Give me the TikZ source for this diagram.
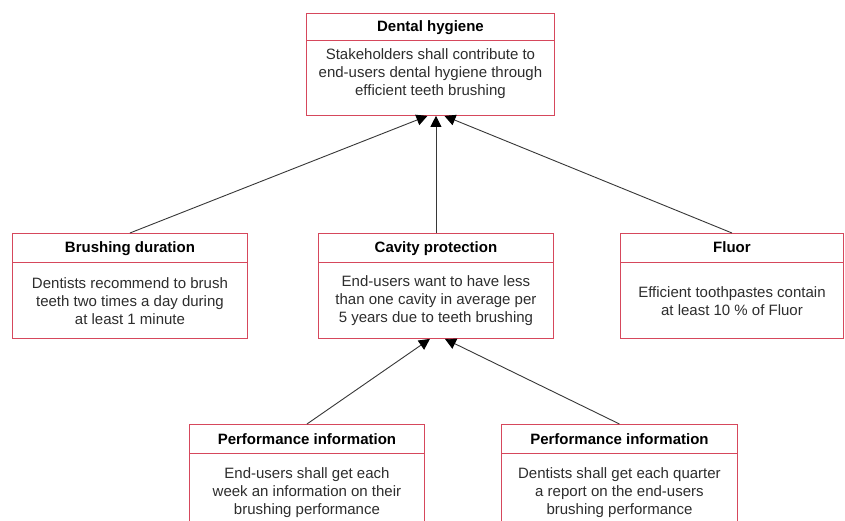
\documentclass[tikz,border=0pt]{standalone}
\usepackage{fontspec}
\setmainfont{Liberation Sans}
\usetikzlibrary{arrows.meta}
\definecolor{boxred}{RGB}{214,72,92}
\definecolor{txt}{RGB}{45,45,45}
\definecolor{conn}{RGB}{55,55,55}
\begin{document}
\begin{tikzpicture}[x=1pt,y=-1pt,
  box/.style={draw=boxred,line width=0.9pt,fill=white,inner sep=0pt,anchor=north west},
  sepline/.style={draw=boxred,line width=0.9pt},
  ttl/.style={font=\fontsize{15}{18}\selectfont\bfseries,text=black,inner sep=0pt,anchor=base},
  body/.style={font=\fontsize{15}{18}\selectfont,text=txt,align=center,inner sep=0pt},
  arr/.style={draw=conn,line width=0.9pt,-{Triangle[length=11pt,width=11pt,color=black,fill=black]}}]
\useasboundingbox (0,0) rectangle (845,521);
\clip (0,0) rectangle (845,521);
\fill[white] (0,0) rectangle (845,521);

% Dental hygiene
\node[box,minimum width=248pt,minimum height=102pt] (dh) at (306,13) {};
\draw[sepline] ([yshift=-27pt]dh.north west) -- ([yshift=-27pt]dh.north east);
\node[ttl] (dht) at ([yshift=-19pt]dh.north) {Dental hygiene};
\node[body] (dhb) at ([yshift=-61pt]dh.north) {Stakeholders shall contribute to\\end-users dental hygiene through\\efficient teeth brushing};

% Brushing duration
\node[box,minimum width=235pt,minimum height=105pt] (bd) at (12,233) {};
\draw[sepline] ([yshift=-29pt]bd.north west) -- ([yshift=-29pt]bd.north east);
\node[ttl] (bdt) at ([yshift=-19pt]bd.north) {Brushing duration};
\node[body] (bdb) at ([yshift=-68pt]bd.north) {Dentists recommend to brush\\teeth two times a day during\\at least 1 minute};

% Cavity protection
\node[box,minimum width=235pt,minimum height=105pt] (cp) at (318,233) {};
\draw[sepline] ([yshift=-29pt]cp.north west) -- ([yshift=-29pt]cp.north east);
\node[ttl] (cpt) at ([yshift=-19pt]cp.north) {Cavity protection};
\node[body] (cpb) at ([yshift=-68pt]cp.north) {End-users want to have less\\than one cavity in average per\\5 years due to teeth brushing};

% Fluor
\node[box,minimum width=223pt,minimum height=105pt] (fl) at (620,233) {};
\draw[sepline] ([yshift=-29pt]fl.north west) -- ([yshift=-29pt]fl.north east);
\node[ttl] (flt) at ([yshift=-19pt]fl.north) {Fluor};
\node[body] (flb) at ([yshift=-68pt]fl.north) {Efficient toothpastes contain\\at least 10 \% of Fluor};

% Performance information (left)
\node[box,minimum width=235pt,minimum height=110pt] (pl) at (189,424) {};
\draw[sepline] ([yshift=-29pt]pl.north west) -- ([yshift=-29pt]pl.north east);
\node[ttl] (plt) at ([yshift=-20pt]pl.north) {Performance information};
\node[body] (plb) at ([yshift=-69pt]pl.north) {End-users shall get each\\week an information on their\\brushing performance};

% Performance information (right)
\node[box,minimum width=236pt,minimum height=110pt] (pr) at (501,424) {};
\draw[sepline] ([yshift=-29pt]pr.north west) -- ([yshift=-29pt]pr.north east);
\node[ttl] (prt) at ([yshift=-20pt]pr.north) {Performance information};
\node[body] (prb) at ([yshift=-69pt]pr.north) {Dentists shall get each quarter\\a report on the end-users\\brushing performance};

% connectors
\draw[arr] (bd.north) -- ([xshift=-3pt]dh.south);
\draw[arr] (cp.north) -- (cp.north |- dh.south);
\draw[arr] (fl.north) -- ([xshift=14pt]dh.south);
\draw[arr] (pl.north) -- ([xshift=-6pt]cp.south);
\draw[arr] (pr.north) -- ([xshift=9pt]cp.south);
\end{tikzpicture}
\end{document}
